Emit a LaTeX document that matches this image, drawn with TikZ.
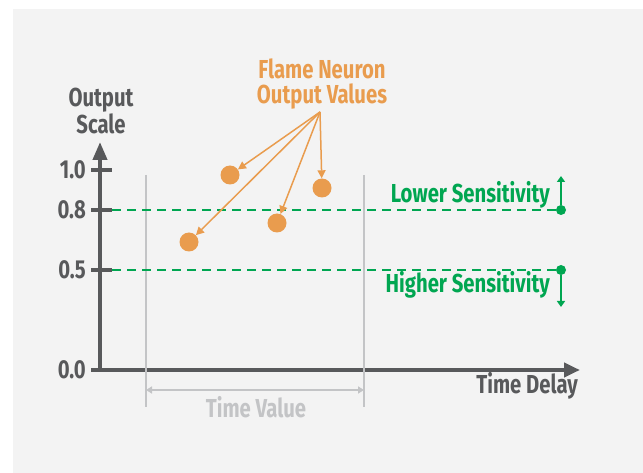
\documentclass[tikz,border=0pt]{standalone}
\usepackage{fontspec}
\setmainfont{Fira Sans}[FakeStretch=0.78]
\usetikzlibrary{arrows.meta,positioning}
\definecolor{bggray}{RGB}{243,243,243}
\definecolor{axisgray}{RGB}{88,89,91}
\definecolor{guidegray}{RGB}{195,196,198}
\definecolor{flameorange}{RGB}{233,156,78}
\definecolor{sensgreen}{RGB}{0,166,81}

\begin{document}
\begin{tikzpicture}[x=1pt, y=-1pt,
    every node/.style={font=\fontsize{26}{25}\selectfont\bfseries, inner sep=0pt},
    axis/.style={draw=axisgray, line width=4pt},
    guide/.style={draw=guidegray, line width=1.5pt},
    sensline/.style={draw=sensgreen, line width=2pt, dash pattern=on 9pt off 6pt},
    flamedot/.style={circle, fill=flameorange, minimum size=19pt},
    sensdot/.style={circle, fill=sensgreen, minimum size=10pt},
    flamearrow/.style={draw=flameorange, line width=1.5pt, -{Triangle[length=8pt,width=8pt]}},
    sensarrow/.style={draw=sensgreen, line width=1.5pt, -{Triangle[length=6pt,width=8pt]}}]
    \useasboundingbox (0,0) rectangle (643,473);
    \fill[bggray] (13,9) rectangle (643,473);

    % axes
    \coordinate (origin) at (100,370);
    \coordinate (ytip) at (100,142);
    \coordinate (xstart) at (91,370);
    \coordinate (xtip) at (580,370);
    \draw[axis, -{Triangle[length=18pt,width=14pt]}] (origin) -- (ytip);
    \draw[axis, -{Triangle[length=16pt,width=14pt]}] (xstart) -- (xtip);
    \foreach \val/\ypos in {1.0/170, 0.8/210, 0.5/270, 0.0/370} {
        \draw[axis] (91,\ypos) -- (112,\ypos);
        \node[anchor=east, text=axisgray] at (86,\ypos) {\val};
    }
    \node[align=center, text=axisgray] (yname) at (101,111) {Output\\Scale};
    \node[anchor=base east, text=axisgray] (xname) at (578,393) {Time Delay};

    % time window
    \coordinate (tvltop) at (146,175);
    \coordinate (tvlbot) at (146,407);
    \coordinate (tvrtop) at (364,175);
    \coordinate (tvrbot) at (364,407);
    \coordinate (tvl) at (146,390);
    \coordinate (tvr) at (364,390);
    \draw[guide] (tvltop) -- (tvlbot);
    \draw[guide] (tvrtop) -- (tvrbot);
    \draw[guide, {Triangle[length=6pt,width=7pt]}-{Triangle[length=6pt,width=7pt]}] (tvl) -- (tvr);
    \node[anchor=base, text=guidegray] (tvname) at (256,417) {Time Value};

    % sensitivity thresholds
    \node[sensdot] (lowdot) at (561,210) {};
    \node[sensdot] (highdot) at (561,270) {};
    \coordinate (lowstart) at (112,210);
    \coordinate (highstart) at (112,270);
    \coordinate (lowtip) at (561,176);
    \coordinate (hightip) at (561,307);
    \draw[sensline] (lowstart) -- (lowdot);
    \draw[sensline] (highstart) -- (highdot);
    \draw[sensarrow] (lowdot) -- (lowtip);
    \draw[sensarrow] (highdot) -- (hightip);
    \node[anchor=base east, text=sensgreen] (lowname) at (550,203) {Lower Sensitivity};
    \node[anchor=base east, text=sensgreen] (highname) at (550,293) {Higher Sensitivity};

    % neuron outputs
    \node[align=center, text=flameorange] (flamename) at (322,84) {Flame Neuron\\Output Values};
    \coordinate (flamesrc) at (320,112);
    \node[flamedot] (out1) at (230,175) {};
    \node[flamedot] (out2) at (322,188) {};
    \node[flamedot] (out3) at (277,223) {};
    \node[flamedot] (out4) at (189,242) {};
    \draw[flamearrow] (flamesrc) -- (out1);
    \draw[flamearrow] (flamesrc) -- (out2);
    \draw[flamearrow] (flamesrc) -- (out3);
    \draw[flamearrow] (flamesrc) -- (out4);
\end{tikzpicture}
\end{document}
